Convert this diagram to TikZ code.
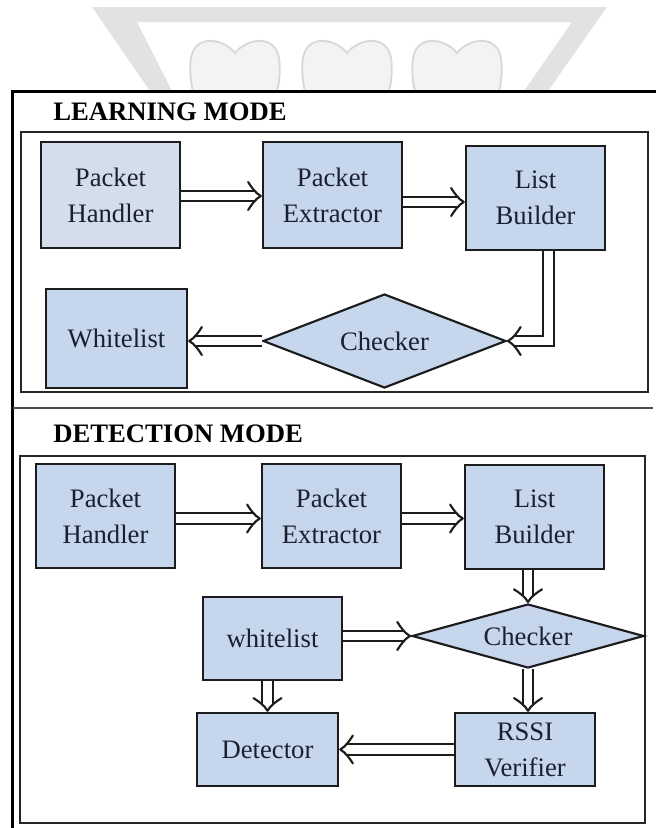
\documentclass[tikz,border=0pt]{standalone}
\usepackage{fontspec}
\setmainfont{Liberation Serif}
\usetikzlibrary{shapes.geometric,arrows.meta}
\definecolor{boxfill}{HTML}{C6D6EC}
\definecolor{boxfillpale}{HTML}{D3DDEC}
\definecolor{ink}{HTML}{1A2030}
\definecolor{edge}{HTML}{1C1C1C}
\definecolor{bandgray}{HTML}{E2E2E2}
\definecolor{heartfill}{HTML}{F3F3F3}
\definecolor{heartline}{HTML}{D8D8D8}

% open chevron head for the hollow double-line connectors
\pgfdeclarearrow{
  name=OpenHead,
  setup code={
    \pgfarrowssettipend{0.7pt}
    \pgfarrowssetlineend{-4.3pt}
    \pgfarrowssetbackend{-10pt}
    \pgfarrowssetvisualbackend{-4.3pt}
  },
  drawing code={
    \pgfsetlinewidth{1.6pt}
    \pgfsetdash{}{0pt}
    \pgfsetroundjoin
    \pgfsetroundcap
    \pgfpathmoveto{\pgfqpoint{-9.5pt}{10.5pt}}
    \pgfpathcurveto{\pgfqpoint{-7pt}{6.5pt}}{\pgfqpoint{-4pt}{2.2pt}}{\pgfqpoint{0pt}{0pt}}
    \pgfpathcurveto{\pgfqpoint{-4pt}{-2.2pt}}{\pgfqpoint{-7pt}{-6.5pt}}{\pgfqpoint{-9.5pt}{-10.5pt}}
    \pgfusepathqstroke
  }
}

\begin{document}
\begin{tikzpicture}[x=0.75pt,y=-0.75pt,
  sz/.style 2 args={minimum width=#1*0.75pt, minimum height=#2*0.75pt},
  blockbox/.style={draw=edge, line width=1.9pt, fill=boxfill, text=ink,
    align=center, font=\fontsize{20}{27}\selectfont, inner sep=0pt},
  checkbox/.style={diamond, draw=edge, line width=1.6pt, fill=boxfill, text=ink,
    font=\fontsize{20}{27}\selectfont, inner sep=0pt},
  heading/.style={anchor=base west, inner sep=0pt,
    font=\bfseries\fontsize{20}{24}\selectfont, text=black},
  flow/.style={draw=edge, line width=1.5pt, double=white, double distance=6.5pt,
    -{OpenHead}},
  frameline/.style={draw=black!85, line width=1.6pt}
]
\useasboundingbox (0,0) rectangle (656,828);

% faint background mark above the frame
\begin{scope}
  \clip (0,0) rectangle (656,91);
  \fill[bandgray] (92,7) -- (607,7) -- (548,91) -- (524,91) -- (572,22)
    -- (137,22) -- (172,91) -- (150,91) -- cycle;
  \foreach \cx in {235,347,457} {
    \draw[heartline, fill=heartfill, line width=1.4pt]
      (\cx,53) .. controls (\cx-12,38) and (\cx-40,34) .. (\cx-44,58)
      .. controls (\cx-46,72) and (\cx-44,85) .. (\cx-40,100)
      -- (\cx+40,100)
      .. controls (\cx+44,85) and (\cx+46,72) .. (\cx+44,58)
      .. controls (\cx+40,34) and (\cx+12,38) .. (\cx,53) -- cycle;
  }
\end{scope}

% outer frame, separator and the two mode panels
\draw[black, line width=1.9pt] (656,91.5) -- (12.5,91.5) -- (12.5,828);
\draw[black!70, line width=1.1pt] (12.5,408) -- (653,408);
\draw[frameline] (21,132) rectangle (648,392);
\draw[frameline] (20,456) rectangle (645,823);

\node[heading] (learnhead) at (53,120) {LEARNING MODE};
\node[heading] (detecthead) at (53,442) {DETECTION MODE};

% learning mode
\node[blockbox, fill=boxfillpale, sz={139}{106}] (lph) at (110.5,195) {Packet\\Handler};
\node[blockbox, sz={139}{106}] (lpe) at (332.5,195) {Packet\\Extractor};
\node[blockbox, sz={139}{104}] (llb) at (535.5,198) {List\\Builder};
\node[blockbox, sz={141}{99}] (lwl) at (116.5,338.5) {Whitelist};
\node[checkbox, aspect=2.6, sz={243}{94}] (lck) at (384.5,341) {Checker};

\draw[flow] (lph.east |- 0,196) -- (lpe.west |- 0,196);
\draw[flow] (lpe.east |- 0,202) -- (llb.west |- 0,202);
\draw[flow] (llb.south -| 548.5,0) |- (lck.east);
\draw[flow] (lck.west) -- (lwl.east |- lck.west);

% detection mode
\node[blockbox, sz={139}{104}] (dph) at (105.5,516) {Packet\\Handler};
\node[blockbox, sz={139}{104}] (dpe) at (331.5,516) {Packet\\Extractor};
\node[blockbox, sz={139}{104}] (dlb) at (534.5,517) {List\\Builder};
\node[blockbox, sz={139}{83}] (dwl) at (272.5,638.5) {whitelist};
\node[checkbox, aspect=3.6, sz={232}{64}] (dck) at (528,636) {Checker};
\node[blockbox, sz={141}{73}] (ddt) at (267.5,749.5) {Detector};
\node[blockbox, sz={140}{73}] (drs) at (525,749.5) {RSSI\\Verifier};

\draw[flow] (dph.east |- 0,518.5) -- (dpe.west |- 0,518.5);
\draw[flow] (dpe.east |- 0,518.5) -- (dlb.west |- 0,518.5);
\draw[flow] (dlb.south -| dck.north) -- (dck.north);
\draw[flow] (dwl.east |- dck.west) -- (dck.west);
\draw[flow] (dck.south) -- (drs.north -| dck.south);
\draw[flow] (dwl.south -| ddt.north) -- (ddt.north);
\draw[flow] (drs.west) -- (ddt.east);
\end{tikzpicture}
\end{document}
